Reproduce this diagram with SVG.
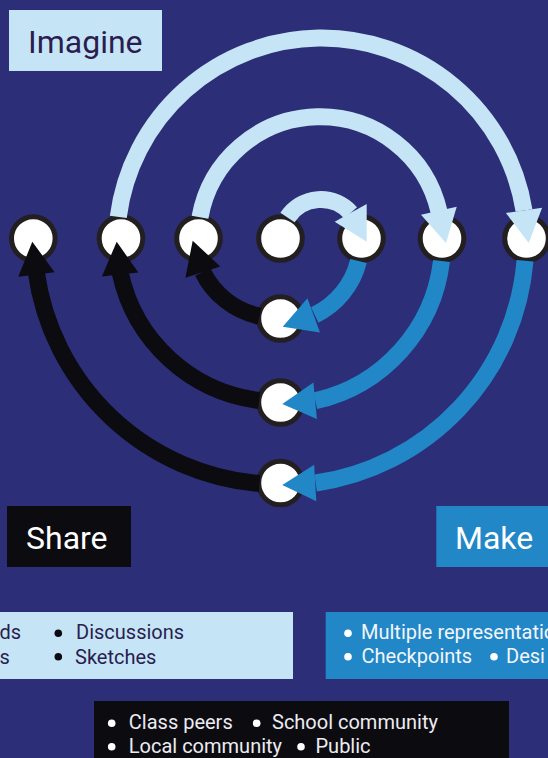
<svg xmlns="http://www.w3.org/2000/svg" xmlns:xlink="http://www.w3.org/1999/xlink" width="548" height="758" viewBox="0 0 548 758">
<style>
.bg{fill:#2c2e78}
.node circle{fill:#ffffff;stroke:#231f20;stroke-width:5}
.sh{fill:none;stroke-width:17;stroke-linecap:butt}
.lb{stroke:#c5e5f7}
.bl{stroke:#2187c7}
.bk{stroke:#0c0b10}
.ahlb{fill:#c5e5f7}
.ahbl{fill:#2187c7}
.ahbk{fill:#0c0b10}
.hd{font-family:Roboto,"Liberation Sans",sans-serif;font-size:32px}
.it{font-family:Roboto,"Liberation Sans",sans-serif;font-size:20px}
</style>
<defs>
<path id="ah" d="M0,0 L-33,-18.3 L-33,18.3 Z"/>
</defs>
<rect class="bg" x="0" y="0" width="548" height="758"/>

<g id="nodes">
<g id="n1" class="node"><circle cx="33.3" cy="238.5" r="21.8"/></g>
<g id="n2" class="node"><circle cx="121" cy="238.5" r="21.8"/></g>
<g id="n3" class="node"><circle cx="198.5" cy="238.5" r="21.8"/></g>
<g id="n4" class="node"><circle cx="280.5" cy="238.5" r="21.8"/></g>
<g id="n5" class="node"><circle cx="361.5" cy="238.5" r="21.8"/></g>
<g id="n6" class="node"><circle cx="442" cy="238.5" r="21.8"/></g>
<g id="n7" class="node"><circle cx="526.5" cy="238.5" r="21.8"/></g>
<g id="n8" class="node"><circle cx="280.5" cy="318.5" r="21.8"/></g>
<g id="n9" class="node"><circle cx="280.5" cy="402.5" r="21.8"/></g>
<g id="n10" class="node"><circle cx="280.5" cy="483" r="21.8"/></g>
</g>

<g id="connectors">
<path class="sh lb" d="M287.5,217.5 A40,40 0 0 1 350.7,212.8"/>
<path class="sh lb" d="M200,217.2 A122,122 0 0 1 439,211.5"/>
<path class="sh lb" d="M118.3,216.8 A205,205 0 0 1 524,210.5"/>
<path class="sh bl" d="M358.5,261 A81.5,81.5 0 0 1 314.7,315"/>
<path class="sh bl" d="M441.5,261 A163,163 0 0 1 315.3,400.8"/>
<path class="sh bl" d="M525,260.8 A245,245 0 0 1 315.7,483"/>
<path class="sh bk" d="M259.5,316.3 A84,80 0 0 1 202.8,272"/>
<path class="sh bk" d="M259.1,400.5 A163,163 0 0 1 120.3,273.3"/>
<path class="sh bk" d="M259.5,483.5 A246,246 0 0 1 36.3,272.5"/>
<use xlink:href="#ah" class="ahlb" transform="translate(366.7,241.7) rotate(61)"/>
<use xlink:href="#ah" class="ahlb" transform="translate(446,243) rotate(77.5)"/>
<use xlink:href="#ah" class="ahlb" transform="translate(528.7,243) rotate(81.8)"/>
<use xlink:href="#ah" class="ahbl" transform="translate(282.7,326.7) rotate(160)"/>
<use xlink:href="#ah" class="ahbl" transform="translate(282.3,404) rotate(174.5)"/>
<use xlink:href="#ah" class="ahbl" transform="translate(282.3,485) rotate(176.6)"/>
<use xlink:href="#ah" class="ahbk" transform="translate(192.7,240.7) rotate(-107.9)"/>
<use xlink:href="#ah" class="ahbk" transform="translate(116.7,241.7) rotate(-96)"/>
<use xlink:href="#ah" class="ahbk" transform="translate(32.3,241.7) rotate(-97.2)"/>
</g>

<g id="imagine">
<rect x="9" y="10" width="153" height="61" fill="#c5e5f7"/>
<text class="hd" x="28" y="52.5" fill="#2b1d4f">Imagine</text>
</g>
<g id="share">
<rect x="7" y="506" width="124" height="61" fill="#0c0b10"/>
<text class="hd" x="26" y="548.5" fill="#ffffff">Share</text>
</g>
<g id="make">
<rect x="436.3" y="506" width="111.7" height="61" fill="#2187c7"/>
<text class="hd" x="455" y="548.5" fill="#ffffff">Make</text>
</g>

<g id="imagine-list">
<rect x="0" y="612" width="293" height="67" fill="#c5e5f7"/>
<g fill="#0c0b10">
<circle cx="58.3" cy="633.3" r="3.8"/>
<circle cx="58.3" cy="656.7" r="3.8"/>
</g>
<g class="it" fill="#2b1d4f">
<text x="21" y="639.3" text-anchor="end">ds</text>
<text x="9.8" y="664" text-anchor="end">s</text>
<text x="76" y="639.3">Discussions</text>
<text x="75" y="664">Sketches</text>
</g>
</g>

<g id="make-list">
<rect x="325.7" y="612" width="222.3" height="67" fill="#2187c7"/>
<g fill="#ffffff">
<circle cx="348" cy="633.3" r="3.8"/>
<circle cx="348" cy="656.7" r="3.8"/>
<circle cx="494" cy="656.7" r="3.8"/>
</g>
<g class="it" fill="#f2f6fb">
<text x="361" y="639.3">Multiple representatio</text>
<text x="361.5" y="663.3">Checkpoints</text>
<text x="506" y="663.3">Desi</text>
</g>
</g>

<g id="share-list">
<rect x="94" y="701" width="415" height="57" fill="#0c0b10"/>
<g fill="#ffffff">
<circle cx="111.7" cy="723.3" r="3.8"/>
<circle cx="111.7" cy="746.7" r="3.8"/>
<circle cx="256.7" cy="723.3" r="3.8"/>
<circle cx="301" cy="746.7" r="3.8"/>
</g>
<g class="it" fill="#ececf2">
<text x="128.8" y="729.3">Class peers</text>
<text x="128.8" y="753.3">Local community</text>
<text x="272" y="729.3">School community</text>
<text x="315.5" y="753.3">Public</text>
</g>
</g>
</svg>
